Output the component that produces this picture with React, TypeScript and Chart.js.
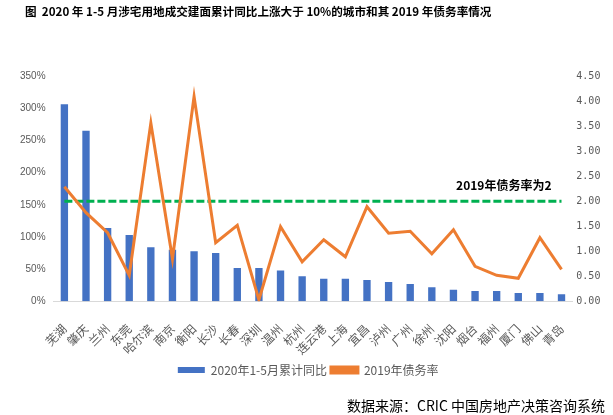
import React, { useEffect, useRef } from 'react';
import { Chart, registerables } from 'chart.js';

Chart.register(...registerables);

const FONT = "'Noto Sans CJK SC', 'Noto Sans', sans-serif";
const BLUE = '#4472C4';
const ORANGE = '#ED7D31';
const GREEN = '#00B050';
const AXIS_TEXT = '#595959';

const TITLE = '图  2020 年 1-5 月涉宅用地成交建面累计同比上涨大于 10%的城市和其 2019 年债务率情况';
const SOURCE = '数据来源：CRIC 中国房地产决策咨询系统';
const ANNOTATION = '2019年债务率为2';

const cities = ['芜湖', '肇庆', '兰州', '东莞', '哈尔滨', '南京', '衡阳', '长沙', '长春', '深圳', '温州', '杭州', '连云港', '上海', '宜昌', '泸州', '广州', '徐州', '沈阳', '烟台', '福州', '厦门', '佛山', '青岛'];
const growth = [306, 265, 114, 103, 84, 80, 78, 75, 52, 52, 48, 39, 35, 35, 33, 30, 27, 22, 18, 16, 16, 13, 13, 11];
const debtRatio = [2.29, 1.77, 1.37, 0.52, 3.56, 0.85, 4.09, 1.17, 1.52, 0.03, 1.49, 0.79, 1.23, 0.89, 1.89, 1.36, 1.40, 0.95, 1.43, 0.70, 0.52, 0.46, 1.27, 0.64];
const THRESHOLD = 2;
const thresholdLine = cities.map(() => THRESHOLD);

const growthLabel = '2020年1-5月累计同比';
const debtLabel = '2019年债务率';

export default function App() {
  const ref = useRef<HTMLCanvasElement>(null);

  useEffect(() => {
    const canvas = ref.current;
    if (!canvas) return;

    const overlay = {
      id: 'overlay',
      afterDraw(chart: any) {
        const c = chart.ctx;
        c.save();
        c.fillStyle = '#000';
        c.textBaseline = 'middle';
        c.font = `bold 11.6px ${FONT}`;
        c.textAlign = 'left';
        c.fillText(TITLE, 25, 12);
        const xs = chart.scales.x;
        const ys = chart.scales.y1;
        c.font = `bold 12px ${FONT}`;
        c.textAlign = 'right';
        c.fillText(ANNOTATION, xs.getPixelForValue(cities.length - 1) - 10, ys.getPixelForValue(THRESHOLD) - 16);
        c.font = `14px ${FONT}`;
        c.fillText(SOURCE, 605, 406);
        c.restore();
      },
    };

    const chart = new Chart(canvas, {
      type: 'bar',
      data: {
        labels: cities,
        datasets: [
          {
            type: 'bar',
            label: growthLabel,
            data: growth,
            yAxisID: 'y',
            backgroundColor: BLUE,
            barPercentage: 0.34,
            categoryPercentage: 1,
            order: 3,
          } as any,
          {
            type: 'line',
            label: debtLabel,
            data: debtRatio,
            yAxisID: 'y1',
            borderColor: ORANGE,
            backgroundColor: ORANGE,
            borderWidth: 3,
            pointRadius: 0,
            tension: 0,
            order: 1,
          },
          {
            type: 'line',
            label: 'threshold',
            data: thresholdLine,
            yAxisID: 'y1',
            borderColor: GREEN,
            backgroundColor: GREEN,
            borderWidth: 3,
            borderDash: [8, 3],
            pointRadius: 0,
            order: 2,
          },
        ],
      },
      options: {
        responsive: false,
        animation: false,
        layout: { padding: { left: 12, right: 8.6, top: 76, bottom: 29 } },
        plugins: {
          title: { display: false },
          tooltip: { enabled: false },
          legend: {
            position: 'bottom',
            labels: {
              filter: (item: any) => item.datasetIndex !== 2,
              sort: (a: any, b: any) => a.datasetIndex - b.datasetIndex,
              boxWidth: 27,
              boxHeight: 6,
              padding: 4,
              color: AXIS_TEXT,
              font: { family: FONT, size: 12 },
            },
          },
        },
        scales: {
          x: {
            grid: { display: false, drawTicks: false },
            border: { display: true, color: '#D9D9D9', width: 1 },
            afterFit: (s: any) => {
              s.height -= 17;
              s.paddingLeft = 0;
              s.paddingRight = 0;
            },
            ticks: {
              color: AXIS_TEXT,
              font: { family: FONT, size: 12 },
              minRotation: 45,
              maxRotation: 45,
              autoSkip: false,
              padding: 20,
            },
          },
          y: {
            position: 'left',
            min: 0,
            max: 350,
            grid: { display: false, drawTicks: false },
            border: { display: false },
            ticks: {
              stepSize: 50,
              padding: 8,
              color: AXIS_TEXT,
              font: { family: "'Liberation Sans', Arial, sans-serif", size: 10 },
              callback: (v: any) => `${v}%`,
            },
          },
          y1: {
            position: 'right',
            min: 0,
            max: 4.5,
            grid: { display: false, drawTicks: false },
            border: { display: false },
            ticks: {
              stepSize: 0.5,
              padding: 4,
              color: AXIS_TEXT,
              font: { family: "'DejaVu Sans Mono', monospace", size: 10 },
              callback: (v: any) => Number(v).toFixed(2),
            },
          },
        },
      },
      plugins: [overlay],
    });

    return () => chart.destroy();
  }, []);

  return (
    <div style={{ position: 'absolute', left: 0, top: 0, width: 613, height: 415, background: '#fff' }}>
      <canvas ref={ref} width={613} height={415} />
    </div>
  );
}
